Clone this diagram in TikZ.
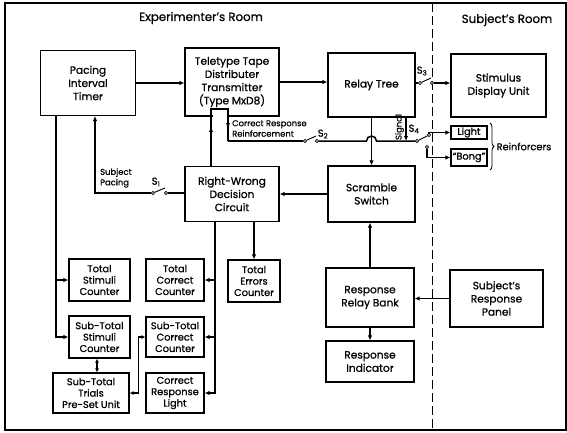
\documentclass[tikz,border=0pt]{standalone}
\usepackage{fontspec}
\setmainfont{Poppins}[FakeBold=0.8]
\usetikzlibrary{arrows.meta,decorations.pathreplacing}

\tikzstyle{unit} = [draw, line width=1.2pt, align=center, inner sep=1pt, font=\fontsize{10.6}{13.2}\selectfont]
\tikzstyle{counter} = [unit, font=\fontsize{9.8}{11.4}\selectfont]
\tikzstyle{wire} = [line width=1.5pt]
\tikzstyle{feed} = [wire, -{Latex[length=5pt,width=4.5pt]}]
\tikzstyle{both} = [wire, {Latex[length=4pt,width=4pt]}-{Latex[length=4pt,width=4pt]}]
\tikzstyle{contact} = [circle, draw, line width=0.8pt, fill=white, minimum size=3.2pt, inner sep=0pt]
\tikzstyle{blade} = [line width=0.9pt]
\tikzstyle{tag} = [font=\fontsize{8.4}{10.5}\selectfont, align=left, inner sep=0pt]
\tikzstyle{swname} = [font=\fontsize{10}{10}\selectfont, inner sep=0pt]
\tikzstyle{room} = [font=\fontsize{11.8}{13}\selectfont]

\begin{document}
\begin{tikzpicture}[x=1pt,y=-1pt]
	\useasboundingbox (0,0) rectangle (567,432);
	\draw[line width=1.2pt] (5,3) rectangle (566,430);
	\draw[line width=1pt, dash pattern=on 9pt off 4pt] (432,3) -- (432,430);
	\node[room] at (201,18) {Experimenter's Room};
	\node[room] at (507,20) {Subject's Room};

	\node[unit, minimum width=95pt, minimum height=65pt] (ptimer) at (88,83) {Pacing\\Interval\\Timer};
	\node[unit, minimum width=94pt, minimum height=68pt] (teletype) at (232,82) {Teletype Tape\\Distributer\\Transmitter\\(Type MxD8)};
	\node[unit, minimum width=87pt, minimum height=64pt] (relay) at (371.5,85) {Relay Tree};
	\node[unit, minimum width=95pt, minimum height=63pt] (display) at (498.5,85.5) {Stimulus\\Display Unit};
	\node[unit, minimum width=94pt, minimum height=55pt] (decision) at (232,194) {Right-Wrong\\Decision\\Circuit};
	\node[unit, minimum width=87pt, minimum height=56pt] (scramble) at (371.5,194) {Scramble\\Switch};
	\node[counter, minimum width=36pt, minimum height=13pt, inner sep=0pt] (light) at (469,132.5) {Light};
	\node[counter, minimum width=36pt, minimum height=17pt, inner sep=0pt] (bong) at (469,157.5) {``Bong''};
	\node[counter, minimum width=61pt, minimum height=42pt] (tstim) at (99.5,280) {Total\\Stimuli\\Counter};
	\node[counter, minimum width=58pt, minimum height=42pt] (tcorr) at (175,280) {Total\\Correct\\Counter};
	\node[counter, minimum width=52pt, minimum height=42pt] (terr) at (254,281) {Total\\Errors\\Counter};
	\node[counter, minimum width=61pt, minimum height=42pt] (ststim) at (99.5,337) {Sub-Total\\Stimuli\\Counter};
	\node[counter, minimum width=58pt, minimum height=40pt] (stcorr) at (175,337) {Sub-Total\\Correct\\Counter};
	\node[counter, minimum width=76pt, minimum height=40pt] (sttrials) at (91,393) {Sub-Total\\Trials\\Pre-Set Unit};
	\node[counter, minimum width=58pt, minimum height=40pt] (crlight) at (175,393) {Correct\\Response\\Light};
	\node[unit, minimum width=88pt, minimum height=59pt] (rrbank) at (370,297.5) {Response\\Relay Bank};
	\node[unit, minimum width=88pt, minimum height=41pt] (rind) at (370,361.5) {Response\\Indicator};
	\node[unit, minimum width=93pt, minimum height=57pt] (panel) at (496.5,298.5) {Subject's\\Response\\Panel};

	\draw[feed] (ptimer.east) -- (ptimer.east -| teletype.west);
	\draw[feed] (teletype.east) -- (teletype.east -| relay.west);

	\node[contact] (s3a) at (420,83) {};
	\node[contact] (s3b) at (432,83) {};
	\draw[wire] (s3a -| relay.east) -- (s3a);
	\draw[feed] (s3b) -- (s3b -| display.west);
	\draw[blade] (s3a) -- (431,78);
	\node[swname] at (422,71) {S\textsubscript{3}};

	\fill[white] (212.5,110.5) rectangle (226.5,117);
	\draw[wire] ([xshift=-21pt]decision.north) -- (211,109) -- (228,109) -- (228,141);
	\draw[feed] ([xshift=-21pt]decision.north) -- (211,127);
	\draw[feed] (228,109) -- (228,128);
	\node[tag, anchor=west] at (232,128.5) {Correct Response\\Reinforcement};
	\node[contact] (s2a) at (305,141) {};
	\node[contact] (s2b) at (317,141) {};
	\draw[wire] (228,141) -- (s2a);
	\draw[blade] (s2a) -- (316,136);
	\node[swname] at (323,134) {S\textsubscript{2}};
	\node[contact] (s4a) at (417,141) {};
	\draw[wire] (s2b) -- (366.5,141) arc[start angle=180, end angle=360, radius=5] -- (s4a);

	\draw[feed] (relay.south) -- (scramble.north);
	\draw[feed] (406,117) -- (406,141);
	\node[tag, rotate=90] at (399.5,127) {Signal};
	\node[swname] at (414,129) {S\textsubscript{4}};
	\node[contact] (s4b) at (429,135) {};
	\node[contact] (s4c) at (427,147) {};
	\draw[blade] (s4a) -- (s4b);
	\draw[feed] (s4b) |- (light.west);
	\draw[feed] (s4c) |- (bong.west);
	\draw[decorate, decoration={brace, amplitude=4pt}, line width=0.8pt] (490,123) -- (490,170);
	\node[counter, draw=none, anchor=west, inner sep=0pt] at (496,146.5) {Reinforcers};

	\draw[feed] (scramble.west) -- (scramble.west -| decision.east);
	\node[contact] (s1a) at (153,193) {};
	\node[contact] (s1b) at (166,193) {};
	\draw[wire] (decision.west |- s1b) -- (s1b);
	\draw[feed] (s1a) -- (95,193) -- (95,193 |- ptimer.south);
	\draw[blade] (s1a) -- (165,188);
	\node[swname] at (156,182) {S\textsubscript{1}};
	\node[tag, anchor=west] at (100,178) {Subject\\Pacing};

	\draw[feed] ([xshift=-32pt]ptimer.south) |- (tstim.west);
	\draw[feed] ([xshift=-32pt]ptimer.south) |- (ststim.west);
	\draw[both] ([xshift=-2.5pt]ststim.south) -- ([xshift=-2.5pt]ststim.south |- sttrials.north);
	\draw[both] (sttrials.east) -- ++(9,0) |- (stcorr.west);

	\draw[feed] ([xshift=-17pt]decision.south) |- (tcorr.east);
	\draw[feed] ([xshift=-17pt]decision.south) |- (stcorr.east);
	\draw[feed] ([xshift=-17pt]decision.south) |- (crlight.east);
	\draw[feed] ([xshift=22pt]decision.south) -- ([xshift=22pt]decision.south |- terr.north);

	\draw[feed] (rrbank.north) -- (rrbank.north |- scramble.south);
	\draw[feed] (panel.west) -- (panel.west -| rrbank.east);
	\draw[feed] (rrbank.south) -- (rind.north);
\end{tikzpicture}
\end{document}
